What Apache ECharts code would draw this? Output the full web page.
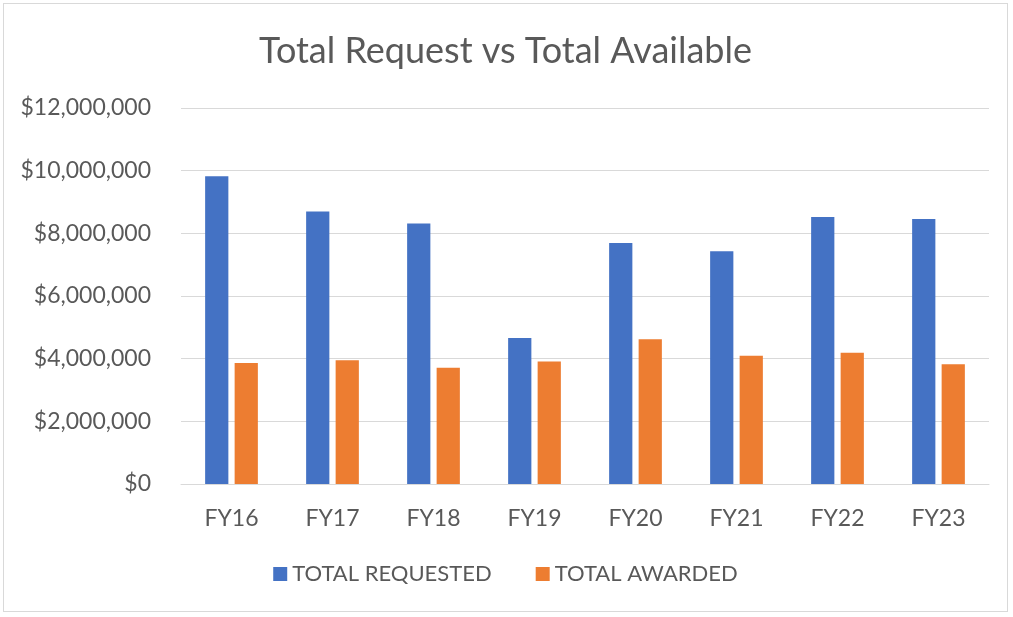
<!DOCTYPE html>
<html>
<head>
<meta charset="utf-8">
<script src="https://cdn.jsdelivr.net/npm/echarts@6/dist/echarts.min.js"></script>
<style>
  html, body { margin: 0; padding: 0; background: #fff; }
  #chart {
    position: absolute; left: 3px; top: 3px;
    width: 1005px; height: 609px;
    border: 1px solid #d9d9d9;
    box-sizing: border-box;
  }
</style>
</head>
<body>
<div id="chart"></div>
<script>
// 数据
const categories = ['FY16', 'FY17', 'FY18', 'FY19', 'FY20', 'FY21', 'FY22', 'FY23']
const totalRequested = [9820000, 8700000, 8310000, 4660000, 7690000, 7430000, 8520000, 8460000]
const totalAwarded = [3860000, 3950000, 3710000, 3910000, 4620000, 4090000, 4190000, 3820000]
const seriesNames = ['TOTAL REQUESTED', 'TOTAL AWARDED']

const font = 'Lato, "Open Sans", sans-serif'
const textColor = '#595959'

function money(v) {
  return '$' + v.toLocaleString('en-US')
}

const myChart = echarts.init(document.getElementById('chart'))
myChart.setOption({
  animation: false,
  title: {
    text: 'Total Request vs Total Available',
    left: 'center',
    top: 24,
    textStyle: {
      color: textColor,
      fontFamily: font,
      fontWeight: 'normal',
      fontSize: 36
    }
  },
  legend: {
    data: seriesNames,
    bottom: 21,
    left: 'center',
    itemWidth: 14,
    itemHeight: 14,
    itemGap: 44,
    icon: 'rect',
    textStyle: {
      color: textColor,
      fontFamily: font,
      fontSize: 22
    }
  },
  // 绘图区域
  grid: {
    left: 177,
    right: 18,
    top: 104,
    bottom: 127
  },
  xAxis: {
    type: 'category',
    data: categories,
    axisLine: { lineStyle: { color: '#d9d9d9', width: 1 } },
    axisTick: { show: false },
    axisLabel: {
      color: textColor,
      fontFamily: font,
      fontSize: 23,
      margin: 23
    }
  },
  yAxis: {
    type: 'value',
    min: 0,
    max: 12000000,
    interval: 2000000,
    axisLine: { show: false },
    axisTick: { show: false },
    axisLabel: {
      color: textColor,
      fontFamily: font,
      fontSize: 23,
      margin: 30,
      formatter: money
    },
    splitLine: {
      lineStyle: { color: '#d9d9d9', width: 1 }
    }
  },
  series: [
    {
      name: seriesNames[0],
      type: 'bar',
      data: totalRequested,
      barWidth: '23%',
      barGap: '27%',
      itemStyle: { color: '#4472c4' }
    },
    {
      name: seriesNames[1],
      type: 'bar',
      data: totalAwarded,
      barWidth: '23%',
      itemStyle: { color: '#ed7d31' }
    }
  ]
})
</script>
</body>
</html>
